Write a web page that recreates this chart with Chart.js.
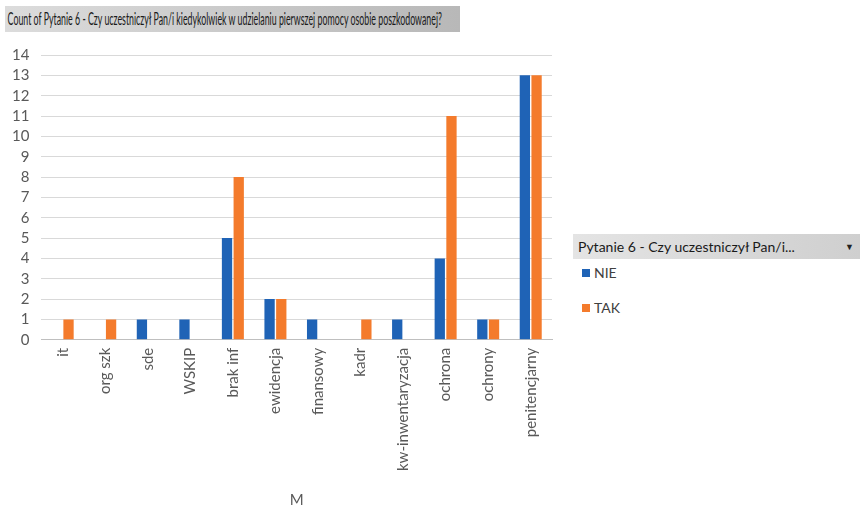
<!DOCTYPE html>
<html>
<head>
<meta charset="utf-8">
<script src="https://cdn.jsdelivr.net/npm/chart.js@4"></script>
<style>
  body { margin: 0; background: #fff; width: 860px; height: 509px; overflow: hidden; position: relative; font-family: Lato, "Open Sans", sans-serif; }
  .title-bar {
    position: absolute; left: 5px; top: 6px; width: 455px; height: 26px; overflow: hidden;
    background: linear-gradient(to right, #dcdcdc 0%, #c6c6c6 60%, #b8b8b8 100%);
    font-size: 17px; line-height: 26px; color: #1a1a1a; box-sizing: border-box;
    white-space: nowrap;
  }
  .title-bar span { display: inline-block; padding-left: 5px; transform-origin: 0 50%; }
  #chartBox { position: absolute; left: 0; top: 34px; width: 560px; height: 475px; }
  .legend { position: absolute; left: 573px; top: 234px; width: 287px; }
  .legend .head {
    height: 25px; line-height: 25px; padding-left: 5px; font-size: 14px; color: #1a1a1a;
    background: linear-gradient(to right, #e4e4e4 0%, #cfcfcf 100%);
    position: relative; white-space: nowrap;
  }
  .legend .head .arrow { position: absolute; right: 6px; top: 0; font-size: 9px; color: #222; }
  .legend .item { height: 35px; line-height: 28px; font-size: 14px; color: #404040; padding-left: 9px; }
  .legend .sw { display: inline-block; width: 8px; height: 8px; margin-right: 4px; vertical-align: 1px; }
</style>
</head>
<body>
<div class="title-bar"><span id="titleText">Count of Pytanie 6 - Czy uczestniczył Pan/i kiedykolwiek w udzielaniu pierwszej pomocy osobie poszkodowanej?</span></div>
<div id="chartBox"><canvas id="barChart"></canvas></div>
<div class="legend" id="legend">
  <div class="head">Pytanie 6 - Czy uczestniczył Pan/i...<span class="arrow">&#9660;</span></div>
</div>
<script>
// Categories and counts
const categories = ['it', 'org szk', 'sde', 'WSKIP', 'brak inf', 'ewidencja', 'finansowy', 'kadr',
                    'kw-inwentaryzacja', 'ochrona', 'ochrony', 'penitencjarny'];
const nieValues = [0, 0, 1, 1, 5, 2, 1, 0, 1, 4, 1, 13];
const takValues = [1, 1, 0, 0, 8, 2, 0, 1, 0, 11, 1, 13];
const yTicks = [0, 14, 1]; // min, max, step
const seriesNames = ['NIE', 'TAK'];
const seriesColors = ['#1F63B6', '#F47B2C'];

document.addEventListener('DOMContentLoaded', () => {
    // squeeze the title so it looks condensed like the original
    const t = document.getElementById('titleText');
    const w = t.getBoundingClientRect().width;
    if (w > 437) t.style.transform = 'scaleX(' + (437 / w) + ')';

    const ctx = document.getElementById('barChart').getContext('2d');
    const labelColor = '#595959';

    const data = {
        labels: categories,
        datasets: [nieValues, takValues].map((vals, i) => ({
            label: seriesNames[i],
            data: vals,
            backgroundColor: seriesColors[i],
            borderWidth: 0,
            categoryPercentage: 0.55,
            barPercentage: 0.88
        }))
    };

    new Chart(ctx, {
        type: 'bar',
        data: data,
        options: {
            responsive: true,
            maintainAspectRatio: false,
            animation: false,
            layout: { padding: { top: 0, right: 8, left: 0, bottom: 0 } },
            plugins: {
                legend: { display: false },
                tooltip: { enabled: false }
            },
            scales: {
                x: {
                    grid: { display: false, drawTicks: false },
                    border: { display: true, color: '#bfbfbf', width: 1 },
                    ticks: {
                        color: labelColor,
                        font: { family: 'Lato', size: 15 },
                        maxRotation: 90,
                        minRotation: 90,
                        padding: 8,
                        autoSkip: false
                    },
                    title: {
                        display: true,
                        text: 'M',
                        color: labelColor,
                        font: { family: 'Lato', size: 15 },
                        padding: { top: 12, bottom: 0 }
                    }
                },
                y: {
                    min: yTicks[0],
                    max: yTicks[1],
                    ticks: {
                        stepSize: yTicks[2],
                        autoSkip: false,
                        color: labelColor,
                        font: { family: 'Lato', size: 15 },
                        padding: 12
                    },
                    grid: { color: '#d9d9d9', drawTicks: false },
                    border: { display: false }
                }
            }
        }
    });

    // Legend built from the same series arrays
    const legend = document.getElementById('legend');
    seriesNames.forEach((name, i) => {
        const row = document.createElement('div');
        row.className = 'item';
        row.innerHTML = '<span class="sw" style="background:' + seriesColors[i] + '"></span>' + name;
        legend.appendChild(row);
    });
});
</script>
</body>
</html>
